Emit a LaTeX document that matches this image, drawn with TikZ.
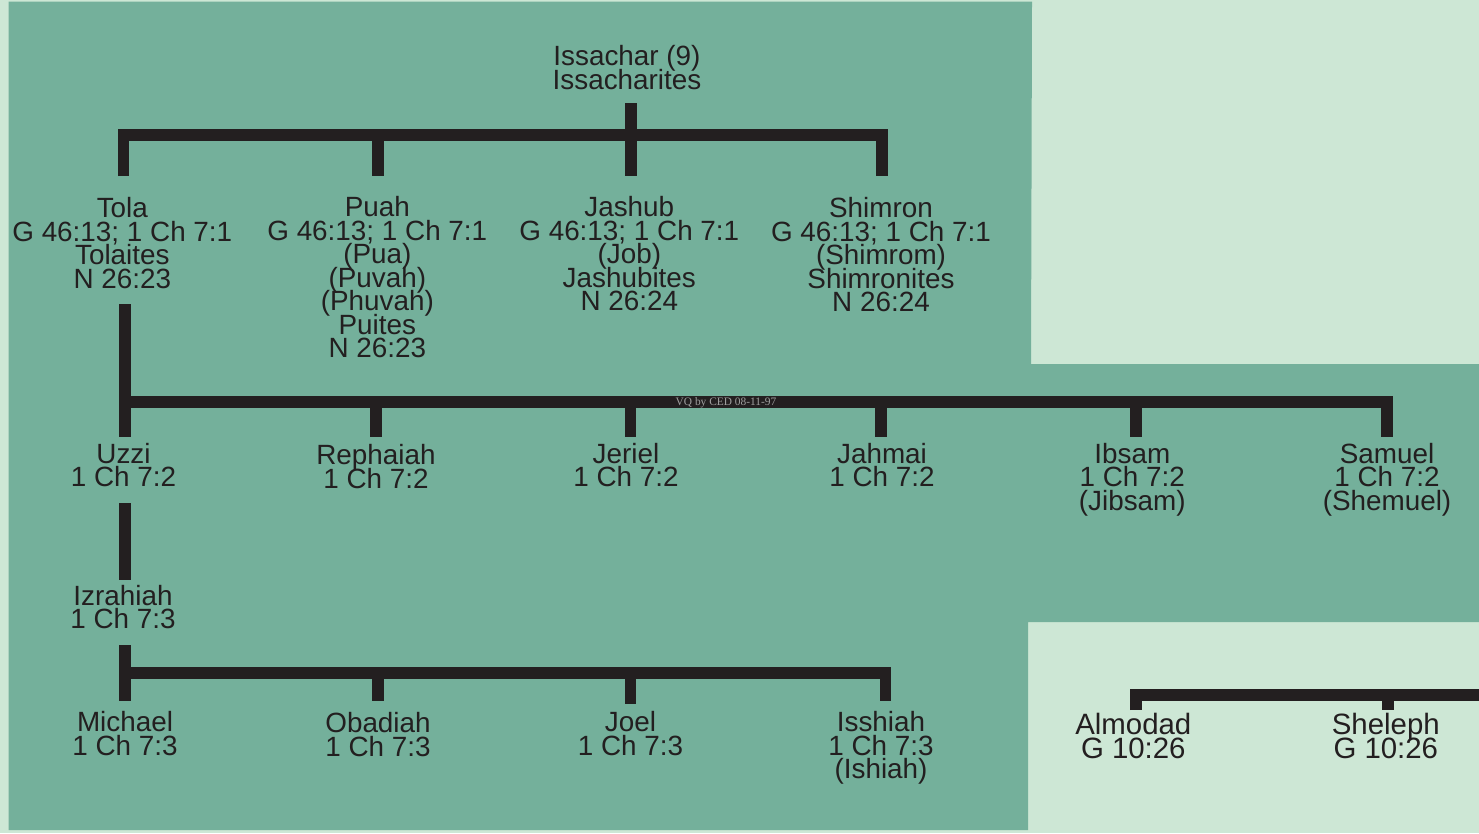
\documentclass[tikz,border=0pt]{standalone}
\usepackage{fontspec}
\setmainfont{Liberation Sans}
\newfontfamily\vqfont{Liberation Serif}
\definecolor{deepgreen}{HTML}{74B09B}
\definecolor{palegreen}{HTML}{CDE7D5}
\definecolor{ink}{HTML}{231F20}
\definecolor{vqgrey}{HTML}{A0A0A0}
\normallineskiplimit=-100pt
\newcommand{\personfont}{\fontsize{27.85}{23.55}\selectfont\lineskiplimit=-100pt\relax}
\newcommand{\largepersonfont}{\fontsize{29.4}{23.55}\selectfont\lineskiplimit=-100pt\relax}
\newcommand{\fl}{\rule{0pt}{20pt}}
\tikzset{
  person/.style={anchor=north,inner sep=0pt,outer sep=0pt,align=center,text=ink,font=\personfont},
  largeperson/.style={person,font=\largepersonfont},
  bar/.style={draw=ink,line width=11.3pt,line cap=butt,line join=miter},
  note/.style={inner sep=0pt,text=vqgrey,font=\vqfont\fontsize{11.4}{12}\selectfont}
}
\begin{document}
\begin{tikzpicture}[x=1pt,y=-1pt]
\useasboundingbox (0,0) rectangle (1479,833);
\fill[palegreen] (0,0) rectangle (1479,833);
\fill[deepgreen] (8.5,1.5) -- (1032,1.5) -- (1031,364) -- (1479,364) -- (1479,622) -- (1028,622) -- (1028,830) -- (8.5,830) -- cycle;

% people
\node[person] (issachar) at (627,45.5) {\fl Issachar (9)\\Issacharites};
\node[person] (tola) at (122.3,197.3) {\fl Tola\\G 46:13; 1 Ch 7:1\\Tolaites\\N 26:23};
\node[person] (puah) at (377.3,196.3) {\fl Puah\\G 46:13; 1 Ch 7:1\\(Pua)\\(Puvah)\\(Phuvah)\\Puites\\N 26:23};
\node[person] (jashub) at (629.3,196.3) {\fl Jashub\\G 46:13; 1 Ch 7:1\\(Job)\\Jashubites\\N 26:24};
\node[person] (shimron) at (881,197.3) {\fl Shimron\\G 46:13; 1 Ch 7:1\\(Shimrom)\\Shimronites\\N 26:24};
\node[person] (uzzi) at (123.5,443.2) {\fl Uzzi\\1 Ch 7:2};
\node[person] (rephaiah) at (376,444.5) {\fl Rephaiah\\1 Ch 7:2};
\node[person] (jeriel) at (626,443) {\fl Jeriel\\1 Ch 7:2};
\node[person] (jahmai) at (882,443) {\fl Jahmai\\1 Ch 7:2};
\node[person] (ibsam) at (1132.3,443) {\fl Ibsam\\1 Ch 7:2\\(Jibsam)};
\node[person] (samuel) at (1387,443) {\fl Samuel\\1 Ch 7:2\\(Shemuel)};
\node[person] (izrahiah) at (123,585) {\fl Izrahiah\\1 Ch 7:3};
\node[person] (michael) at (125,711.3) {\fl Michael\\1 Ch 7:3};
\node[person] (obadiah) at (378,712.7) {\fl Obadiah\\1 Ch 7:3};
\node[person] (joel) at (630.5,711.7) {\fl Joel\\1 Ch 7:3};
\node[person] (isshiah) at (881,711.3) {\fl Isshiah\\1 Ch 7:3\\(Ishiah)};
\node[largeperson] (almodad) at (1133.3,713.5) {\fl Almodad\\G 10:26};
\node[largeperson] (sheleph) at (1385.8,713.5) {\fl Sheleph\\G 10:26};

% connector ends
\coordinate (issStem) at (631,103);
\coordinate (issJoin) at (631,135);
\coordinate (tolaTip) at (123.2,176);
\coordinate (puahTip) at (378,176);
\coordinate (jashubTip) at (631,176);
\coordinate (shimronTip) at (882,176);
\coordinate (tolaFoot) at (125,304);
\coordinate (uzziTip) at (125,437);
\coordinate (rephaiahTip) at (376,437);
\coordinate (jerielTip) at (630.5,437);
\coordinate (jahmaiTip) at (881,437);
\coordinate (ibsamTip) at (1136,437);
\coordinate (samuelTip) at (1387,437);
\coordinate (row2) at (125,402);
\coordinate (uzziFoot) at (125,503);
\coordinate (izrahiahTip) at (125,580);
\coordinate (izrahiahFoot) at (125,645);
\coordinate (row3) at (125,673);
\coordinate (michaelTip) at (125,701);
\coordinate (obadiahTip) at (378,701);
\coordinate (joelTip) at (630.5,704);
\coordinate (isshiahTip) at (885.5,701);
\coordinate (almodadTip) at (1136,710);
\coordinate (shelephTip) at (1388,710);
\coordinate (rightEdge) at (1479,695);

% connectors
\draw[bar] (tolaTip) |- (shimronTip |- issJoin) -- (shimronTip);
\draw[bar] (issStem) -- (jashubTip);
\draw[bar] (puahTip |- issJoin) -- (puahTip);

\draw[bar] (tolaFoot) -- (uzziTip);
\draw[bar] (row2) -| (samuelTip);
\draw[bar] (rephaiahTip |- row2) -- (rephaiahTip);
\draw[bar] (jerielTip |- row2) -- (jerielTip);
\draw[bar] (jahmaiTip |- row2) -- (jahmaiTip);
\draw[bar] (ibsamTip |- row2) -- (ibsamTip);

\draw[bar] (uzziFoot) -- (izrahiahTip);

\draw[bar] (izrahiahFoot) -- (michaelTip);
\draw[bar] (row3) -| (isshiahTip);
\draw[bar] (obadiahTip |- row3) -- (obadiahTip);
\draw[bar] (joelTip |- row3) -- (joelTip);

\draw[bar] (almodadTip) |- (rightEdge);
\draw[bar] (shelephTip |- rightEdge) -- (shelephTip);

\node[note] (vq) at (726,403) {VQ by CED 08-11-97};
\end{tikzpicture}
\end{document}
